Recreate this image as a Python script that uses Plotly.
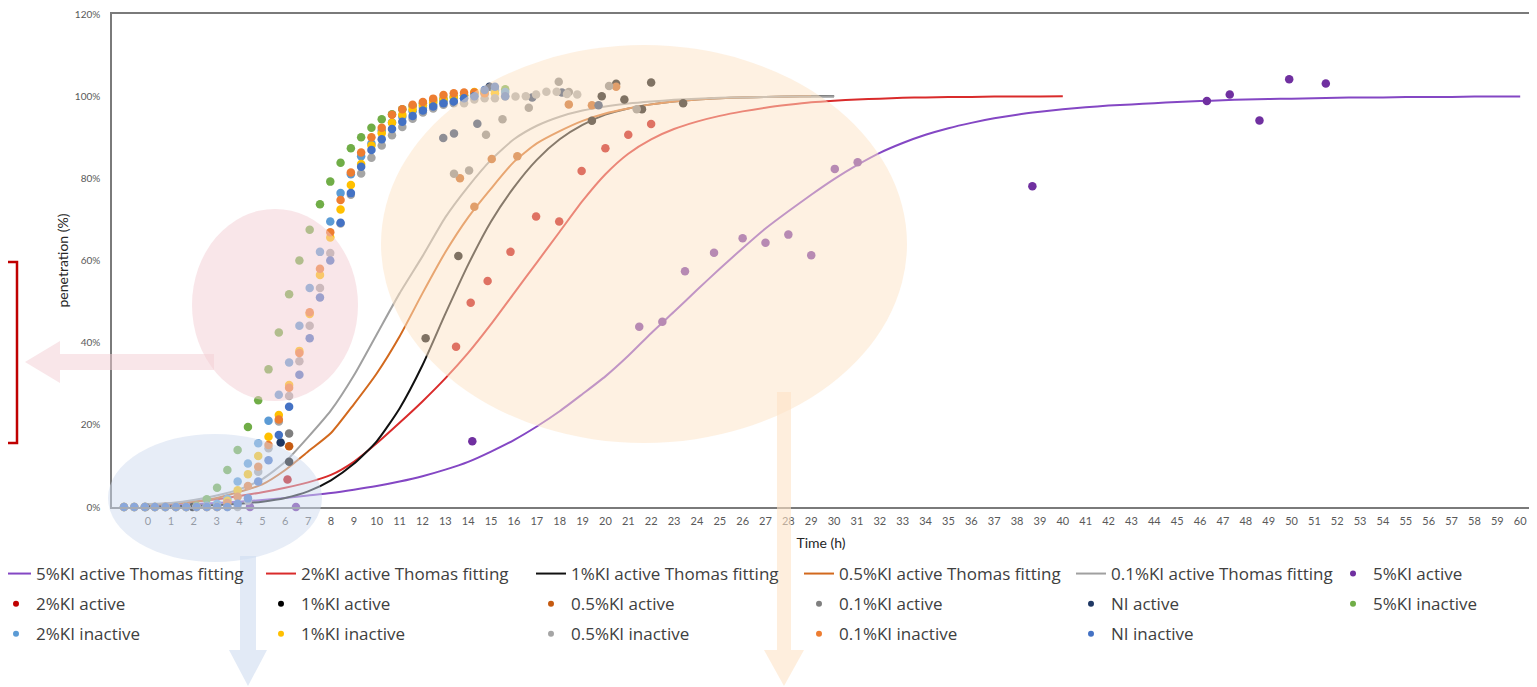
import plotly.graph_objects as go

# ---------------- data ----------------
# Thomas fitting curves (time in h, penetration in %)
fit5_h = list(range(0, 61))
fit5_y = [0.3, 0.5, 0.7, 1.0, 1.3, 1.7, 2.2, 2.8, 3.4, 4.2, 5.1, 6.2, 7.5, 9.1, 11.0, 13.5,
          16.3, 19.6, 23.3, 27.5, 31.8, 36.8, 42.3, 47.5, 52.8, 58.0, 63.0, 67.8, 72.0, 76.0,
          79.8, 83.2, 86.2, 88.6, 90.6, 92.2, 93.5, 94.6, 95.5, 96.2, 96.8, 97.3, 97.7, 98.0,
          98.3, 98.6, 98.8, 99.0, 99.2, 99.3, 99.4, 99.5, 99.6, 99.7, 99.7, 99.8, 99.8, 99.8,
          99.9, 99.9, 99.9]
fit2_h = list(range(0, 41))
fit2_y = [0.5, 0.9, 1.3, 1.9, 2.7, 3.6, 4.7, 6.0, 7.8, 11.0, 15.5, 20.5, 25.7, 31.3, 37.5,
          44.5, 52.0, 59.5, 67.0, 74.5, 81.0, 86.0, 89.5, 92.0, 93.8, 95.2, 96.3, 97.2, 97.9,
          98.5, 98.9, 99.2, 99.4, 99.6, 99.7, 99.8, 99.8, 99.9, 99.9, 99.9, 100.0]
fit1_h = list(range(0, 31))
fit1_y = [0.1, 0.2, 0.3, 0.5, 0.8, 1.3, 2.2, 3.8, 6.5, 10.5, 16.0, 24.0, 34.5, 47.0, 59.0,
          69.5, 77.8, 84.5, 89.5, 93.0, 95.5, 97.0, 98.0, 98.7, 99.2, 99.5, 99.7, 99.8, 99.9,
          100.0, 100.0]
fit05_h = list(range(0, 30))
fit05_y = [0.5, 0.8, 1.3, 2.2, 3.7, 5.5, 9.0, 13.5, 18.0, 25.0, 32.5, 41.5, 52.0, 62.0, 70.5,
           77.5, 84.0, 88.5, 91.5, 94.0, 95.8, 97.0, 98.0, 98.7, 99.2, 99.5, 99.7, 99.8, 99.9,
           100.0]
fit01_h = list(range(0, 31))
fit01_y = [0.7, 1.0, 1.7, 2.8, 4.3, 6.8, 11.0, 17.0, 23.5, 32.0, 42.0, 52.0, 61.0, 70.5, 78.0,
           84.5, 89.5, 92.8, 95.0, 96.5, 97.5, 98.2, 98.7, 99.1, 99.4, 99.6, 99.7, 99.8, 99.9,
           99.9, 100.0]

# active samples
ki5_act_h = [4.46, 6.47, 14.18, 21.48, 22.49, 23.48, 24.75, 26.0, 27.0, 28.0, 29.0, 30.03,
             31.03, 38.67, 46.3, 47.3, 48.6, 49.9, 51.5]
ki5_act_y = [0, 0, 16.0, 43.9, 45.1, 57.4, 61.9, 65.4, 64.3, 66.3, 61.3, 82.3, 83.9, 78.1,
             98.8, 100.4, 94.1, 104.1, 103.1]
ki2_act_h = [6.1, 13.47, 14.11, 14.85, 15.85, 16.97, 17.98, 18.96, 20.0, 21.0, 22.0]
ki2_act_y = [6.7, 39.0, 49.7, 55.0, 62.1, 70.7, 69.5, 81.8, 87.3, 90.6, 93.2]
ki1_act_h = [-0.1, 1.95, 6.17, 12.14, 13.57, 19.41, 19.84, 20.47, 20.83, 21.6, 22.0, 23.4]
ki1_act_y = [0, 0, 11.0, 41.1, 61.1, 94.0, 100.0, 103.0, 99.2, 96.8, 103.3, 98.3]
ki05_act_h = [6.17, 13.64, 14.27, 15.03, 16.15, 18.4, 19.41, 20.47]
ki05_act_y = [14.8, 80.0, 73.1, 84.7, 85.4, 98.0, 97.8, 102.3]
ki01_act_h = [6.17, 13.38, 14.04, 14.78, 15.5, 16.65, 17.96, 18.4, 20.16, 21.37]
ki01_act_y = [17.9, 81.1, 81.9, 90.6, 94.4, 97.2, 103.5, 101.0, 102.5, 96.8]
ni_act_h = [5.8, 12.91, 13.38, 14.4, 14.93, 16.8, 18.1, 19.7]
ni_act_y = [15.7, 89.8, 90.9, 93.3, 102.3, 99.7, 100.9, 97.8]

# inactive samples (common sampling times)
t_inactive = [-1.05, -0.6, -0.14, 0.3, 0.76, 1.22, 1.67, 2.12, 2.57, 3.02, 3.47, 3.92, 4.37,
              4.82, 5.27, 5.72, 6.17, 6.62, 7.07, 7.52, 7.97, 8.42, 8.87, 9.32, 9.77, 10.22,
              10.67, 11.12, 11.57, 12.02, 12.47, 12.92, 13.37, 13.82, 14.27, 14.72, 15.17,
              15.62, 16.07, 16.52, 16.97, 17.42, 17.87, 18.32, 18.77]
ki5_inact = [0, 0, 0, 0, 0, 0, 0, 0.3, 1.9, 4.7, 9.0, 13.9, 19.5, 26.0, 33.5, 42.5, 51.8,
             60.0, 67.5, 73.7, 79.2, 83.8, 87.3, 90.0, 92.3, 94.4, 95.6, 96.8, 97.6, 98.3,
             98.9, 99.4, 99.8, 100.2, 100.6, 101.0, 101.3, 101.7]
ki2_inact = [0, 0, 0, 0, 0, 0, 0, 0, 0.3, 0.8, 2.0, 6.2, 10.6, 15.5, 21.0, 27.3, 35.2, 44.1,
             53.3, 62.1, 69.5, 76.4, 81.0, 85.4, 88.5, 91.6, 93.6, 95.0, 96.3, 97.2, 97.9,
             98.7, 98.7, 99.5, 100.0, 100.6, 101.5, 101.0]
ki1_inact = [0, 0, 0, 0, 0, 0, 0, 0, 0, 0, 1.5, 4.1, 8.0, 12.4, 17.1, 22.4, 29.7, 38.0, 47.0,
             56.5, 65.6, 72.4, 78.4, 83.5, 88.0, 91.0, 93.5, 95.5, 96.8, 97.8, 98.5, 99.2,
             99.8, 100.2, 101.0, 101.0, 100.7]
ki05_inact = [0, 0, 0, 0, 0, 0, 0, 0, 0, 0, 0, 0, 1.5, 8.6, 14.3, 20.8, 27.0, 35.5, 44.1,
              53.3, 61.8, 69.0, 76.0, 81.2, 85.0, 88.0, 90.5, 92.5, 94.5, 96.0, 97.0, 97.9,
              98.3, 98.3, 99.2, 99.5, 99.5, 99.9, 99.9, 100.0, 100.4, 101.1, 101.1, 100.5,
              100.4]
ki01_inact = [0, 0, 0, 0, 0, 0, 0, 0, 0, 0, 1.0, 2.5, 5.1, 9.8, 15.1, 21.3, 29.0, 37.5, 47.4,
              58.0, 66.9, 74.7, 81.4, 86.3, 90.0, 92.3, 95.5, 96.8, 97.9, 98.6, 99.4, 100.3,
              100.7, 100.9, 100.9, 100.7]
ni_inact = [0, 0, 0, 0, 0, 0, 0, 0, 0, 0, 0, 0.8, 2.1, 6.2, 11.4, 17.5, 24.4, 32.2, 41.1,
            51.0, 60.0, 69.2, 76.4, 82.8, 86.9, 89.5, 92.0, 93.8, 95.2, 96.5, 97.5, 98.3,
            98.7, 99.5, 100.0, 101.5, 102.3, 100.0]

x_ticks = list(range(0, 61))
y_ticks = [0, 20, 40, 60, 80, 100, 120]
y_ticktext = ["0%", "20%", "40%", "60%", "80%", "100%", "120%"]

# ---------------- layout geometry ----------------
# the page body has an 8px margin, so figure coords = page coords - OFF
OFF = 8
W, H = 1537 - OFF, 687 - OFF
PL, PR, PT, PB = 112 - OFF, 1530 - OFF, 14 - OFF, 507 - OFF   # plot area (figure px)
X0_PX, X_PER_H = 148 - OFF, 22.87                              # tick 0 position, px per hour


def px(p):   # page pixel -> paper x
    return (p - OFF - PL) / (PR - PL)


def py(p):   # page pixel -> paper y
    return (PB - (p - OFF)) / (PB - PT)


FONT = "'Open Sans', Lato, Arial, sans-serif"
TXT = "#404040"

fig = go.Figure()

fits = [
    ("5%KI active Thomas fitting", fit5_h, fit5_y, "#8447C4", "legend"),
    ("2%KI active Thomas fitting", fit2_h, fit2_y, "#D92B2B", "legend2"),
    ("1%KI active Thomas fitting", fit1_h, fit1_y, "#111111", "legend3"),
    ("0.5%KI active Thomas fitting", fit05_h, fit05_y, "#D2691E", "legend4"),
    ("0.1%KI active Thomas fitting", fit01_h, fit01_y, "#A0A0A0", "legend5"),
]
for name, xs, ys, col, lg in fits:
    fig.add_trace(go.Scatter(x=xs, y=ys, mode="lines", name=name, legend=lg, legendgroup=name,
                             line=dict(color=col, width=2, shape="spline", smoothing=0.6),
                             cliponaxis=False))

pts = [
    ("5%KI active", ki5_act_h, ki5_act_y, "#7030A0", "legend6"),
    ("2%KI active", ki2_act_h, ki2_act_y, "#C00000", "legend"),
    ("1%KI active", ki1_act_h, ki1_act_y, "#000000", "legend2"),
    ("0.5%KI active", ki05_act_h, ki05_act_y, "#C55A11", "legend3"),
    ("0.1%KI active", ki01_act_h, ki01_act_y, "#7F7F7F", "legend4"),
    ("NI active", ni_act_h, ni_act_y, "#1F3864", "legend5"),
    ("5%KI inactive", t_inactive[:len(ki5_inact)], ki5_inact, "#70AD47", "legend6"),
    ("2%KI inactive", t_inactive[:len(ki2_inact)], ki2_inact, "#5B9BD5", "legend"),
    ("1%KI inactive", t_inactive[:len(ki1_inact)], ki1_inact, "#FFC000", "legend2"),
    ("0.5%KI inactive", t_inactive[:len(ki05_inact)], ki05_inact, "#A5A5A5", "legend3"),
    ("0.1%KI inactive", t_inactive[:len(ki01_inact)], ki01_inact, "#ED7D31", "legend4"),
    ("NI inactive", t_inactive[:len(ni_inact)], ni_inact, "#4472C4", "legend5"),
]
for name, xs, ys, col, lg in pts:
    fig.add_trace(go.Scatter(x=xs, y=ys, mode="markers", name=name, legendgroup=name,
                             showlegend=False, marker=dict(color=col, size=8.5),
                             cliponaxis=False))
    # legend entry with the small Excel-like legend dot
    fig.add_trace(go.Scatter(x=[None], y=[None], mode="markers", name=name, legend=lg,
                             legendgroup=name, marker=dict(color=col, size=6)))

# ---------------- legends (6 columns) ----------------
col_left = [-4, 261, 531, 799, 1071, 1333]     # page px
legend_top = 556
keys = ["legend", "legend2", "legend3", "legend4", "legend5", "legend6"]
for k, lx in zip(keys, col_left):
    fig.layout[k] = dict(x=px(lx), y=py(legend_top), xanchor="left", yanchor="top",
                         orientation="v", bgcolor="rgba(0,0,0,0)", tracegroupgap=5,
                         font=dict(family=FONT, size=17, color=TXT), traceorder="grouped")

# ---------------- decorative overlays ----------------
shapes = []


def ellipse(x0, x1, y0, y1, col, op):
    shapes.append(dict(type="circle", xref="paper", yref="paper", x0=px(x0), x1=px(x1),
                       y0=py(y1), y1=py(y0), fillcolor=col, opacity=op,
                       line=dict(width=0), layer="above"))


def poly(points, col, op):
    d = "M " + " L ".join(f"{px(a):.5f},{py(b):.5f}" for a, b in points) + " Z"
    shapes.append(dict(type="path", xref="paper", yref="paper", path=d, fillcolor=col,
                       opacity=op, line=dict(width=0), layer="above"))


ellipse(381, 907, 45, 443, "#FDE3C6", 0.5)
ellipse(192, 358, 209, 401, "#F4CDD4", 0.5)
ellipse(108, 322, 434, 562, "#CFDCF0", 0.5)
poly([(214, 354), (60, 354), (60, 341), (25, 362), (60, 383), (60, 370), (214, 370)],
     "#F4CDD4", 0.5)
poly([(240, 556), (256, 556), (256, 650), (267, 650), (248, 686), (229, 650), (240, 650)],
     "#CFDCF0", 0.6)
poly([(777, 392), (791, 392), (791, 650), (804, 650), (784, 686), (764, 650), (777, 650)],
     "#FDE3C6", 0.6)
shapes.append(dict(type="rect", xref="paper", yref="paper", x0=px(-30), x1=px(17),
                   y0=py(443), y1=py(262), line=dict(color="#C00000", width=2.5),
                   fillcolor="rgba(0,0,0,0)", layer="above"))

axis_common = dict(showgrid=False, zeroline=False, showline=True, linecolor="#7A7A7A",
                   linewidth=1.5, mirror=True, ticks="", ticklabeloverflow="allow")

fig.update_layout(
    width=W, height=H,
    margin=dict(l=PL, r=W - PR, t=PT, b=H - PB, autoexpand=False),
    paper_bgcolor="white", plot_bgcolor="white",
    font=dict(family=FONT, color=TXT),
    shapes=shapes,
    xaxis=dict(range=[(PL - X0_PX) / X_PER_H, (PR - X0_PX) / X_PER_H], tickvals=x_ticks,
               tickfont=dict(family="Lato, Arial", size=11, color="#595959"),
               ticklabelstandoff=3,
               title=dict(text="Time (h)", font=dict(family="Lato, Arial", size=14,
                                                     color="#262626"), standoff=12),
               **axis_common),
    yaxis=dict(range=[0, 120], tickvals=y_ticks, ticktext=y_ticktext,
               tickfont=dict(family="Lato, Arial", size=10, color="#595959"),
               ticklabelstandoff=8,
               title=dict(text="penetration (%)", font=dict(family="Lato, Arial", size=14,
                                                            color="#262626"), standoff=3),
               **axis_common),
)

fig.write_html("out.html")
